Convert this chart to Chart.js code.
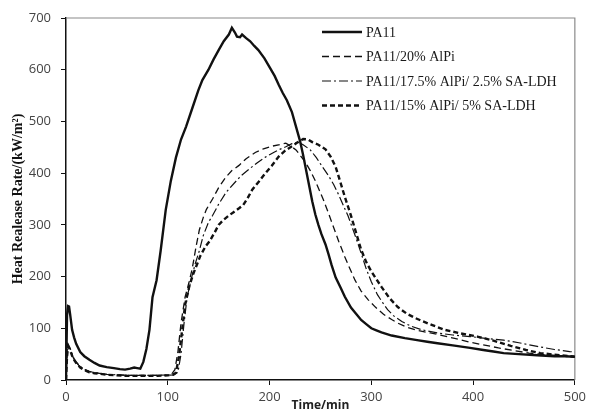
<!DOCTYPE html>
<html lang="en">
  <head>
    <meta charset="UTF-8" />
    <title>Heat release rate</title>
    <style>
      * {
        margin: 0;
        padding: 0;
        box-sizing: border-box;
      }
      body {
        background: white;
      }
      .chartBox {
        width: 590px;
        height: 413px;
      }
    </style>
  </head>
  <body>
    <div class="chartBox">
      <canvas id="myChart"></canvas>
    </div>

    <script src="https://cdn.jsdelivr.net/npm/chart.js"></script>
    <script>
      // [time, heat release rate]
      const pa11 = [
        [0, 0], [1, 125], [2, 143], [3, 142], [4, 128], [6, 97], [8, 82], [10, 70],
        [14, 54], [18, 46], [23, 39], [28, 33], [33, 28], [40, 25], [47, 23], [53, 21],
        [58, 20], [63, 22], [67, 24], [70, 23], [73, 22], [76, 35], [79, 60], [82, 97],
        [85, 160], [89, 193], [93, 250], [98, 329], [103, 385], [108, 430], [113, 465],
        [118, 490], [124, 525], [130, 560], [134, 580], [140, 600], [145, 620], [150, 638],
        [155, 655], [160, 668], [163, 681], [166, 672], [168, 664], [171, 663], [173, 668],
        [177, 661], [181, 655], [185, 646], [189, 638], [195, 622], [200, 605], [205, 588],
        [209, 571], [213, 555], [217, 541], [222, 518], [226, 490], [230, 462], [233, 435],
        [236, 405], [239, 375], [242, 345], [245, 320], [248, 300], [251, 282], [255, 262],
        [258, 243], [261, 222], [265, 198], [270, 178], [274, 161], [280, 140], [285, 128],
        [290, 116], [295, 108], [300, 100], [305, 96], [310, 92], [320, 86], [333, 81],
        [345, 77], [355, 74], [365, 71], [380, 67], [397, 62], [410, 58], [420, 55],
        [430, 52], [445, 50], [463, 48], [480, 46], [490, 46], [500, 45],
      ];
      const alpi20 = [
        [0, 0], [1, 50], [2, 68], [4, 60], [6, 48], [8, 40], [10, 34], [14, 25], [18, 20],
        [23, 16], [28, 14], [33, 13], [40, 11], [50, 10], [60, 9], [70, 9], [80, 9],
        [90, 9], [100, 10], [104, 12], [107, 20], [110, 55], [113, 110], [117, 160],
        [121, 190], [124, 215], [128, 260], [131, 290], [135, 315], [138, 330], [144, 350],
        [150, 372], [157, 392], [163, 405], [170, 415], [177, 428], [186, 440], [194, 447],
        [202, 452], [210, 455], [216, 458], [221, 452], [226, 445], [231, 432], [235, 422],
        [240, 405], [245, 385], [250, 362], [253, 348], [258, 322], [263, 295], [268, 268],
        [274, 238], [279, 215], [284, 193], [290, 172], [297, 155], [304, 141], [312, 127],
        [320, 117], [326, 110], [335, 102], [345, 96], [358, 91], [370, 86], [383, 80],
        [397, 73], [410, 68], [425, 62], [440, 57], [455, 52], [470, 49], [485, 47], [500, 45],
      ];
      const alpi175Ldh25 = [
        [0, 0], [1, 55], [2, 70], [4, 62], [6, 50], [8, 41], [10, 35], [14, 26], [18, 21],
        [23, 17], [28, 14], [33, 13], [40, 11], [50, 10], [60, 9], [70, 9], [80, 9],
        [90, 9], [100, 9], [106, 10], [110, 15], [113, 50], [116, 110], [119, 160],
        [123, 195], [127, 225], [131, 250], [135, 280], [140, 305], [144, 318], [150, 340],
        [157, 362], [165, 380], [172, 395], [180, 408], [188, 420], [196, 431], [204, 440],
        [210, 446], [216, 451], [222, 457], [228, 460], [233, 455], [240, 445], [246, 430],
        [252, 412], [258, 395], [263, 378], [268, 358], [272, 340], [277, 318], [284, 280],
        [290, 245], [295, 215], [300, 190], [306, 165], [311, 150], [316, 136], [322, 124],
        [330, 113], [339, 104], [350, 97], [365, 91], [380, 87], [397, 84], [415, 80],
        [430, 77], [445, 72], [463, 65], [480, 59], [495, 55], [500, 54],
      ];
      const alpi15Ldh5 = [
        [0, 0], [1, 45], [2, 65], [4, 58], [6, 47], [8, 39], [10, 33], [14, 24], [18, 19],
        [23, 15], [28, 13], [33, 12], [40, 10], [50, 9], [60, 8], [70, 8], [80, 8],
        [90, 8], [100, 9], [105, 10], [108, 14], [111, 45], [114, 95], [117, 145],
        [121, 180], [125, 205], [128, 220], [132, 240], [137, 258], [141, 268], [146, 285],
        [150, 300], [155, 310], [160, 318], [165, 325], [170, 332], [174, 338], [178, 350],
        [183, 368], [190, 385], [196, 400], [202, 414], [209, 432], [215, 443], [222, 452],
        [228, 460], [233, 466], [238, 465], [242, 460], [248, 455], [255, 446], [260, 432],
        [265, 412], [270, 380], [274, 354], [280, 318], [285, 285], [290, 252], [295, 228],
        [300, 210], [305, 195], [310, 180], [318, 158], [326, 141], [335, 128], [343, 120],
        [350, 114], [360, 106], [372, 97], [388, 90], [404, 84], [420, 76], [437, 66],
        [452, 58], [466, 52], [480, 49], [500, 45],
      ];

      const seriesNames = [
        "PA11",
        "PA11/20% AlPi",
        "PA11/17.5% AlPi/ 2.5% SA-LDH",
        "PA11/15% AlPi/ 5% SA-LDH",
      ];
      const xTicks = [0, 100, 200, 300, 400, 500];
      const yTicks = [0, 100, 200, 300, 400, 500, 600, 700];

      const toPoints = (arr) => arr.map((p) => ({ x: p[0], y: p[1] }));

      const styles = [
        { width: 2.4, dash: [] },
        { width: 1.3, dash: [7, 4] },
        { width: 1.2, dash: [9, 3, 2, 3] },
        { width: 2.4, dash: [5, 3] },
      ];

      const data = {
        datasets: [pa11, alpi20, alpi175Ldh25, alpi15Ldh5].map((s, i) => ({
          label: seriesNames[i],
          data: toPoints(s),
          borderColor: "#111",
          borderWidth: styles[i].width,
          borderDash: styles[i].dash,
          pointRadius: 0,
          tension: 0,
          fill: false,
        })),
      };

      // frame, axis titles and legend inside the plot
      const decorations = {
        id: "decorations",
        beforeDatasetsDraw(chart) {
          const { ctx, chartArea: { top, right, bottom, left } } = chart;
          ctx.save();
          ctx.strokeStyle = "#8a8a8a";
          ctx.lineWidth = 1.2;
          ctx.beginPath();
          ctx.moveTo(left, top);
          ctx.lineTo(right, top);
          ctx.lineTo(right, bottom);
          ctx.stroke();
          ctx.restore();
        },
        afterDraw(chart) {
          const { ctx, chartArea: { top, bottom, left, right } } = chart;
          ctx.save();
          ctx.fillStyle = "#111";
          ctx.font = "bold 14px 'Liberation Serif'";
          ctx.textAlign = "center";
          ctx.textBaseline = "middle";
          ctx.translate(18, (top + bottom) / 2);
          ctx.rotate(-Math.PI / 2);
          ctx.fillText("Heat Realease Rate/(kW/m\u00b2)", 0, 0);
          ctx.restore();

          ctx.save();
          ctx.fillStyle = "#222";
          ctx.font = "bold 12px 'Open Sans'";
          ctx.textAlign = "center";
          ctx.textBaseline = "middle";
          ctx.fillText("Time/min", (left + right) / 2, bottom + 26);
          ctx.restore();

          ctx.save();
          ctx.font = "14px 'Liberation Serif'";
          ctx.textBaseline = "middle";
          chart.data.datasets.forEach((ds, i) => {
            const y = top + 14 + i * 24.5;
            ctx.strokeStyle = "#111";
            ctx.lineWidth = ds.borderWidth;
            ctx.setLineDash(ds.borderDash);
            ctx.beginPath();
            ctx.moveTo(left + 256, y);
            ctx.lineTo(left + 296, y);
            ctx.stroke();
            ctx.setLineDash([]);
            ctx.fillStyle = "#1a1a1a";
            ctx.fillText(ds.label, left + 300, y + 1);
          });
          ctx.restore();
        },
      };

      const tickFont = { family: "'Open Sans'", size: 13 };

      const config = {
        type: "line",
        data: data,
        options: {
          responsive: true,
          maintainAspectRatio: false,
          animation: false,
          layout: { padding: { left: 0, right: 12, top: 18, bottom: 0 } },
          plugins: {
            legend: { display: false },
            tooltip: { enabled: false },
          },
          scales: {
            x: {
              type: "linear",
              min: 0,
              max: 500,
              afterFit(scale) {
                scale.height = 33;
              },
              afterBuildTicks(scale) {
                scale.ticks = xTicks.map((v) => ({ value: v }));
              },
              border: { color: "#111", width: 1.5 },
              grid: { drawOnChartArea: false, tickLength: 5, tickColor: "#111" },
              ticks: { color: "#444", font: tickFont, padding: 4, maxRotation: 0 },
            },
            y: {
              min: 0,
              max: 700,
              afterFit(scale) {
                scale.width = 66;
              },
              afterBuildTicks(scale) {
                scale.ticks = yTicks.map((v) => ({ value: v }));
              },
              border: { color: "#111", width: 1.5 },
              grid: { drawOnChartArea: false, tickLength: 5, tickColor: "#111" },
              ticks: { color: "#444", font: tickFont, padding: 10 },
            },
          },
        },
        plugins: [decorations],
      };

      const myChart = new Chart(document.getElementById("myChart"), config);
    </script>
  </body>
</html>
